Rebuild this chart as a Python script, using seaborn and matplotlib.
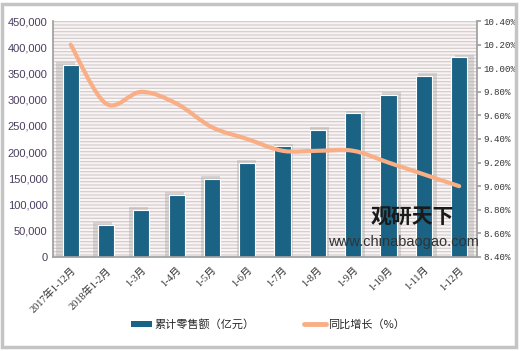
import matplotlib
matplotlib.use("Agg")
import matplotlib.pyplot as plt
import seaborn as sns
import numpy as np
import pandas as pd
from matplotlib.path import Path
from matplotlib.patches import PathPatch, Patch, Rectangle
from matplotlib.lines import Line2D
from matplotlib.ticker import FuncFormatter, MultipleLocator

categories = ["2017年1-12月", "2018年1-2月", "1-3月", "1-4月", "1-5月", "1-6月",
              "1-7月", "1-8月", "1-9月", "1-10月", "1-11月", "1-12月"]
sales = [366262, 61082, 90275, 119046, 149300, 180018, 210752, 242243,
         274299, 309431, 345316, 380987]
growth = [10.2, 9.7, 9.8, 9.7, 9.5, 9.4, 9.3, 9.3, 9.3, 9.2, 9.1, 9.0]
bar_label = "累计零售额（亿元）"
line_label = "同比增长（%）"

sns.set_theme(style="white")
plt.rcParams['font.family'] = ['Noto Sans CJK SC', 'DejaVu Sans']
plt.rcParams['hatch.color'] = '#d4cece'
plt.rcParams['hatch.linewidth'] = 0.9

BAR = '#1a6384'
LINE = '#f9ae86'

fig = plt.figure(figsize=(5.2, 3.51), dpi=100)
fig.patch.set_facecolor('white')
ax = fig.add_axes([0.102, 0.268, 0.815, 0.672])
ax.set_facecolor('#fbf4f4')
ax.patch.set_hatch('-----')
ax.patch.set_edgecolor('#d4cece')

df = pd.DataFrame({"cat": categories, "sales": sales})
n = len(categories)
xs = np.arange(n)

# soft shadows behind bars
for i, v in enumerate(sales):
    ax.bar(i + (i - 5.5) * 0.025, v + 5000, width=0.54, color='#a8a8a8', alpha=0.4,
           zorder=1, linewidth=0)

sns.barplot(data=df, x="cat", y="sales", color=BAR, width=0.46, ax=ax,
            saturation=1, edgecolor='white', linewidth=0.8, zorder=2)

ax.set_ylim(0, 450000)
ax.set_xlim(-0.5, n - 0.5)
ax.yaxis.set_major_locator(MultipleLocator(50000))
ax.yaxis.set_major_formatter(FuncFormatter(lambda v, p: f"{int(v):,}"))
ax.set_xlabel("")
ax.set_ylabel("")
for lab in ax.get_yticklabels():
    lab.set_fontfamily(['Liberation Sans', 'DejaVu Sans'])
    lab.set_fontsize(8)
    lab.set_color('#4a3d5e')
ax.set_xticks(xs)
ax.set_xticklabels(categories, rotation=45, ha='right', rotation_mode='anchor',
                   fontsize=7.5, color='#333333',
                   fontfamily=['Liberation Serif', 'Noto Sans CJK SC'])
ax.tick_params(axis='x', length=0, pad=6)
ax.tick_params(axis='y', length=0, pad=4)
for s in ['top', 'right']:
    ax.spines[s].set_visible(False)
ax.spines['left'].set_color('#a0a0a0')
ax.spines['bottom'].set_color('#a0a0a0')

ax2 = ax.twinx()
ax2.set_ylim(8.4, 10.4)
ax2.yaxis.set_major_locator(MultipleLocator(0.2))
ax2.yaxis.set_major_formatter(FuncFormatter(lambda v, p: f"{v:.2f}%"))
for s in ['top', 'left', 'bottom']:
    ax2.spines[s].set_visible(False)
ax2.spines['right'].set_color('#a0a0a0')
ax2.tick_params(axis='y', length=3, color='#a0a0a0', pad=2, labelsize=6.6,
                labelcolor='#333333')
for lab in ax2.get_yticklabels():
    lab.set_fontfamily(['Liberation Mono', 'DejaVu Sans Mono'])
ax2.grid(False)

# smooth line via Catmull-Rom bezier through data points
pts = np.column_stack([xs, growth]).astype(float)
verts = [tuple(pts[0])]
codes = [Path.MOVETO]
for i in range(n - 1):
    p0 = pts[i - 1] if i > 0 else pts[i]
    p1 = pts[i]
    p2 = pts[i + 1]
    p3 = pts[i + 2] if i + 2 < n else pts[i + 1]
    c1 = p1 + (p2 - p0) / 6.0
    c2 = p2 - (p3 - p1) / 6.0
    verts += [tuple(c1), tuple(c2), tuple(p2)]
    codes += [Path.CURVE4] * 3
ax2.add_patch(PathPatch(Path(verts, codes), facecolor='none', edgecolor=LINE,
                        lw=3, capstyle='round', zorder=5))

# watermark
fig.text(0.712, 0.38, "观研天下", fontsize=15, fontweight='bold', color='#1a1a1a',
         ha='left', va='center')
fig.text(0.630, 0.31, "www.chinabaogao.com", fontsize=10.5, color='#333333',
         ha='left', va='center', fontfamily=['Liberation Sans', 'DejaVu Sans'])

handles = [Patch(facecolor=BAR, edgecolor='none'),
           Line2D([0], [0], color=LINE, lw=3.5)]
fig.legend(handles, [bar_label, line_label], loc='center', ncol=2,
           bbox_to_anchor=(0.515, 0.075), frameon=False, fontsize=8,
           handlelength=1.9, handleheight=0.55, handletextpad=0.2,
           columnspacing=4.5)

fig.add_artist(Rectangle((0.004, 0.012), 0.988, 0.978, transform=fig.transFigure,
                         facecolor='none', edgecolor='#c4c4c4', lw=2.5))

fig.savefig("out.png", dpi=100)
